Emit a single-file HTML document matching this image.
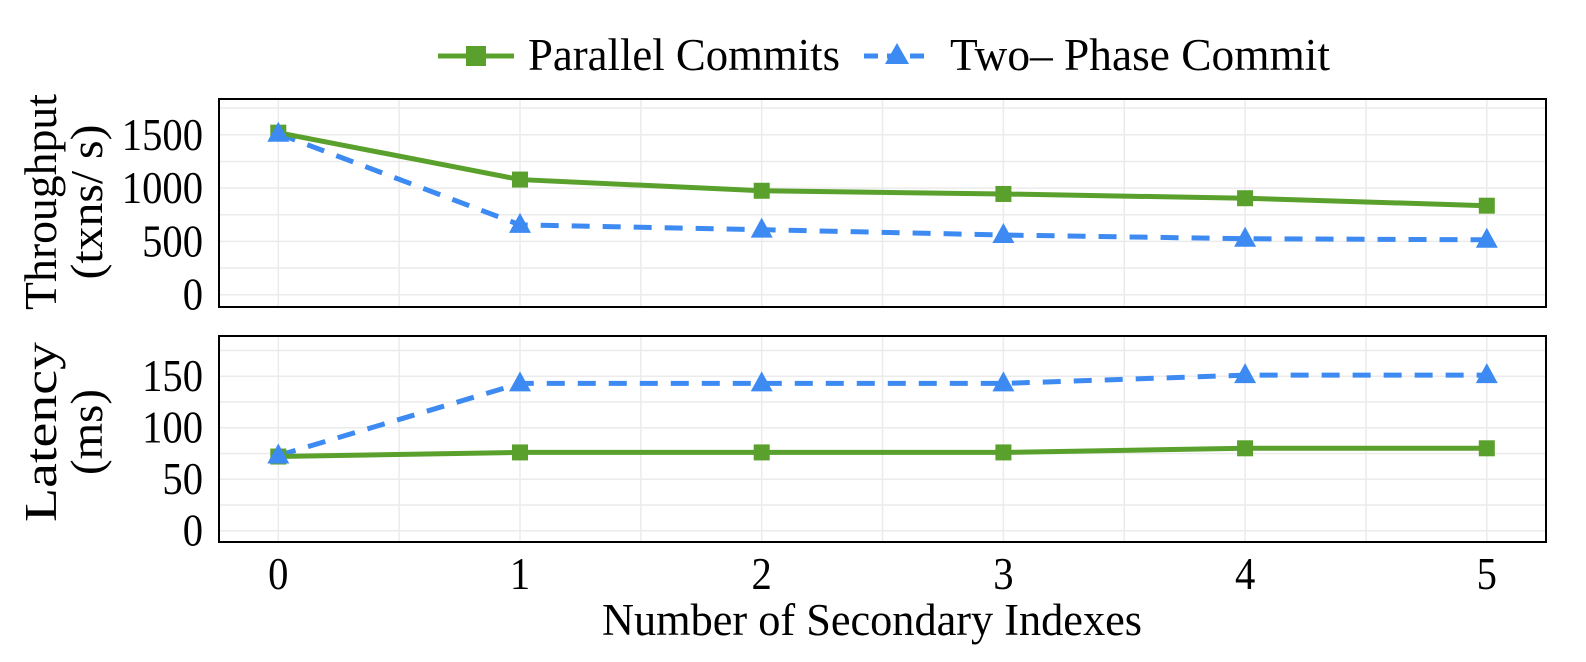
<!DOCTYPE html>
<html><head><meta charset="utf-8"><style>
body{margin:0;background:#fff}
svg{display:block}
text{font-family:"Liberation Serif","Times New Roman",serif;fill:#000}
</style></head><body>
<svg id="chart" width="1586" height="662" xmlns="http://www.w3.org/2000/svg">
<g id="legend">
 <g>
  <line x1="438" y1="56" x2="514" y2="56" stroke="#5aa02c" stroke-width="5"/>
  <rect x="466" y="46" width="20" height="20" fill="#5aa02c"/>
  <text x="528" y="70" font-size="45" textLength="312" lengthAdjust="spacingAndGlyphs">Parallel Commits</text>
 </g>
 <g>
  <line x1="864" y1="56" x2="928" y2="56" stroke="#3d8bf2" stroke-width="5" stroke-dasharray="14,9"/>
  <polygon points="897,43 885,64 909,64" fill="#3d8bf2"/>
  <text x="950" y="70" font-size="45" textLength="380" lengthAdjust="spacingAndGlyphs">Two– Phase Commit</text>
 </g>
</g>
<g id="p1"></g>
<g id="p2"></g>
<g id="xt"></g>
<text x="872" y="635" font-size="45" text-anchor="middle" textLength="540" lengthAdjust="spacingAndGlyphs">Number of Secondary Indexes</text>
<text transform="translate(56,202) rotate(-90)" font-size="45" text-anchor="middle" textLength="216" lengthAdjust="spacingAndGlyphs">Throughput</text>
<text transform="translate(102,202) rotate(-90)" font-size="45" text-anchor="middle" textLength="155" lengthAdjust="spacingAndGlyphs">(txns/ s)</text>
<text transform="translate(56,432) rotate(-90)" font-size="45" text-anchor="middle" textLength="180" lengthAdjust="spacingAndGlyphs">Latency</text>
<text transform="translate(102,432) rotate(-90)" font-size="45" text-anchor="middle" textLength="86" lengthAdjust="spacingAndGlyphs">(ms)</text>
</svg>
<script>
const categories = [0, 1, 2, 3, 4, 5];
const throughputParallel = [1520, 1080, 975, 945, 905, 835];
const throughputTwoPhase = [1510, 655, 610, 560, 525, 515];
const latencyParallel = [72, 76, 76, 76, 80, 80];
const latencyTwoPhase = [73, 143, 143, 143, 151, 151];
const throughputTicks = [0, 500, 1000, 1500];
const latencyTicks = [0, 50, 100, 150];

const NS = "http://www.w3.org/2000/svg";
const L = 219, R = 1546;
const x = v => 278.3 + v * 241.7;
function mk(tag, attrs, parent){const e=document.createElementNS(NS,tag);for(const k in attrs)e.setAttribute(k,attrs[k]);parent.appendChild(e);return e;}

function panel(g, top, bottom, y0px, unitPx, step, ticks, s1, s2, lbl){
  const y = v => y0px - v * unitPx;
  const ymin = (y0px - bottom)/unitPx, ymax = (y0px - top)/unitPx;
  for(let v=Math.ceil(ymin/(step/2))*(step/2); v<=ymax; v+=step/2){
    const gl=mk('line',{x1:L,x2:R,y1:y(v),y2:y(v),stroke:'#ebebeb','stroke-width':1.5},g);
    
    
  }
  for(let c=-0.5;c<=5.5;c+=0.5){
    if(x(c)<=L||x(c)>=R)continue;
    const gl=mk('line',{x1:x(c),x2:x(c),y1:top,y2:bottom,stroke:'#ebebeb','stroke-width':1.5},g);
    
    
  }
  ticks.forEach(t=>{
    const s=String(t);
    const tx=mk('text',{x:203,y:y(t)+15,'font-size':46,'text-anchor':'end',textLength:20.3*s.length,lengthAdjust:'spacingAndGlyphs'},g);
    tx.textContent=s;
    
    
  });
  const p2=mk('polyline',{points:categories.map((c,i)=>x(c)+','+y(s2[i])).join(' '),fill:'none',stroke:'#3d8bf2','stroke-width':5,'stroke-dasharray':'18,13'},g);
  
  
  const p1=mk('polyline',{points:categories.map((c,i)=>x(c)+','+y(s1[i])).join(' '),fill:'none',stroke:'#5aa02c','stroke-width':5},g);
  
  
  categories.forEach((c,i)=>{
    const r=mk('rect',{x:x(c)-8,y:y(s1[i])-8,width:16,height:16,fill:'#5aa02c'},g);
    
    
  });
  categories.forEach((c,i)=>{
    const cx=x(c), cy=y(s2[i]);
    const t=mk('polygon',{points:`${cx},${cy-12} ${cx-11},${cy+8} ${cx+11},${cy+8}`,fill:'#3d8bf2'},g);
    
    
  });
  const fr=mk('rect',{x:L,y:top,width:R-L,height:bottom-top,fill:'none',stroke:'#000','stroke-width':2},g);
  
  
}
panel(document.getElementById('p1'),99,307,294.7,53.3/500,500,throughputTicks,throughputParallel,throughputTwoPhase,'throughput');
panel(document.getElementById('p2'),336,542,530.7,51.5/50,50,latencyTicks,latencyParallel,latencyTwoPhase,'latency');
const xt=document.getElementById('xt');
categories.forEach(c=>{
  const t=mk('text',{x:x(c),y:589,'font-size':46,'text-anchor':'middle',textLength:20.3,lengthAdjust:'spacingAndGlyphs'},xt);
  t.textContent=c;
  
  
});
</script>
</body></html>
